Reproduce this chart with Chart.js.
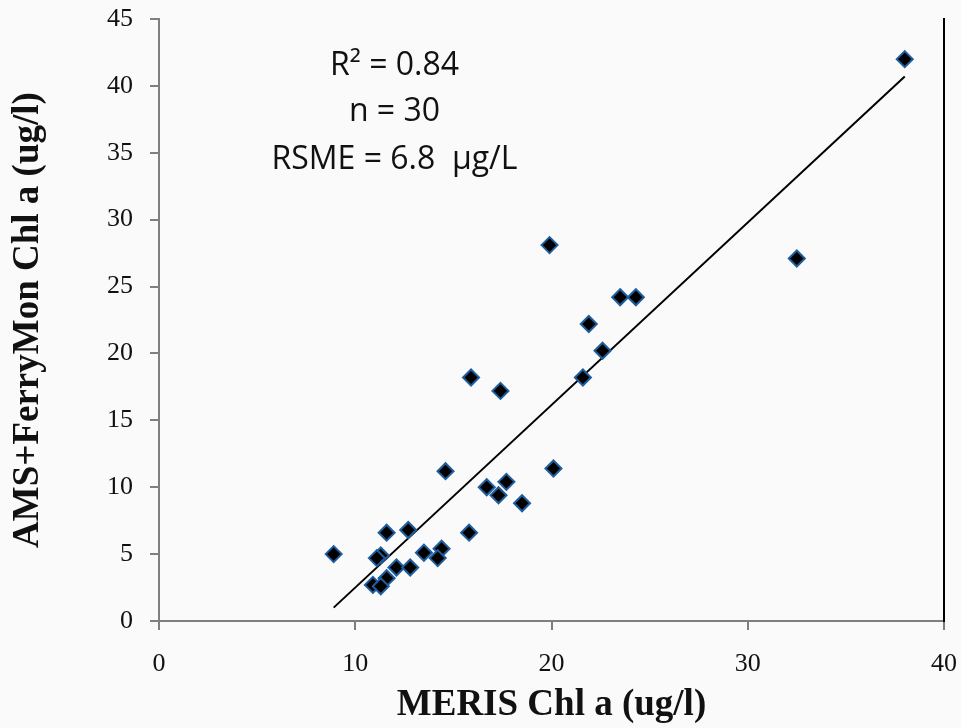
<!DOCTYPE html>
<html>
<head>
<meta charset="utf-8">
<script src="https://cdn.jsdelivr.net/npm/chart.js@4"></script>
<style>
  html, body { margin: 0; padding: 0; background: #fafafa; }
  #wrap { width: 961px; height: 728px; }
</style>
</head>
<body>
<div id="wrap"><canvas id="chart" width="961" height="728"></canvas></div>
<script>
// MERIS vs in situ (AMS + FerryMon) chlorophyll a, ug/l
const meris = [38.0, 32.5, 19.9, 23.5, 24.3, 21.9, 22.6, 21.6, 15.9, 17.4,
               14.6, 20.1, 16.7, 17.7, 17.3, 18.5, 15.8, 11.6, 12.7, 8.9,
               11.3, 11.1, 13.5, 14.4, 14.2, 12.1, 12.8, 11.6, 10.9, 11.3];
const ferryMon = [42.0, 27.1, 28.1, 24.2, 24.2, 22.2, 20.2, 18.2, 18.2, 17.2,
                  11.2, 11.4, 10.0, 10.4, 9.4, 8.8, 6.6, 6.6, 6.8, 5.0,
                  4.9, 4.7, 5.1, 5.4, 4.7, 4.0, 4.0, 3.2, 2.7, 2.6];

// trend line end points
const trendX = [8.9, 38.0];
const trendY = [1.0, 40.7];

const xTicks = [0, 10, 20, 30, 40];
const yTicks = [0, 5, 10, 15, 20, 25, 30, 35, 40, 45];

const statLines = ["R² = 0.84", "n = 30", "RSME = 6.8  µg/L"];

const points = meris.map((x, i) => ({ x: x, y: ferryMon[i] }));
const trend = trendX.map((x, i) => ({ x: x, y: trendY[i] }));

const statsText = {
    id: "statsText",
    afterDraw(chart) {
        const ctx = chart.ctx;
        const xs = chart.scales.x, ys = chart.scales.y;
        const cx = xs.getPixelForValue(12.0);
        const base = [40.8, 37.4, 33.8];
        ctx.save();
        ctx.fillStyle = "#111";
        ctx.font = "32px 'Open Sans'";
        ctx.textAlign = "center";
        ctx.textBaseline = "alphabetic";
        statLines.forEach((t, i) => ctx.fillText(t, cx, ys.getPixelForValue(base[i])));
        ctx.restore();
    }
};

const axisGray = "#7f7f7f";
const tickFont = { family: "'Liberation Serif', serif", size: 26 };
const titleFont = { family: "'Liberation Serif', serif", size: 37, weight: "bold" };

function noPad(s) {
    s.paddingLeft = 0; s.paddingRight = 0;
    s.paddingTop = 0; s.paddingBottom = 0;
}

new Chart(document.getElementById("chart"), {
    type: "scatter",
    data: {
        datasets: [{
            data: points,
            pointStyle: "rectRot",
            pointRadius: 8,
            backgroundColor: "#000",
            borderColor: "#1f5e9e",
            borderWidth: 2
        }, {
            type: "line",
            data: trend,
            borderColor: "#000",
            borderWidth: 2,
            pointRadius: 0,
            fill: false
        }]
    },
    options: {
        responsive: false,
        animation: false,
        layout: { padding: { top: 19, left: 0, right: 0, bottom: 0 } },
        plugins: { legend: { display: false }, tooltip: { enabled: false } },
        scales: {
            x: {
                type: "linear",
                min: 0, max: 40,
                afterBuildTicks: s => { s.ticks = xTicks.map(v => ({ value: v })); },
                afterFit: s => { s.height = 107; noPad(s); },
                grid: { display: true, drawOnChartArea: false, drawTicks: true, tickLength: 9, color: axisGray, lineWidth: 2 },
                border: { display: true, color: axisGray, width: 2 },
                ticks: { color: "#111", font: tickFont, padding: 19, maxRotation: 0 },
                title: { display: true, text: "MERIS Chl a (ug/l)", color: "#111", font: titleFont, padding: { top: 0, bottom: 0 } }
            },
            y: {
                type: "linear",
                min: 0, max: 45,
                afterBuildTicks: s => { s.ticks = yTicks.map(v => ({ value: v })); },
                afterFit: s => { s.width = 159; noPad(s); },
                grid: { display: true, drawOnChartArea: false, drawTicks: true, tickLength: 9, color: axisGray, lineWidth: 2 },
                border: { display: true, color: axisGray, width: 2 },
                ticks: { color: "#111", font: tickFont, padding: 17 },
                title: { display: true, text: "AMS+FerryMon Chl a (ug/l)", color: "#111", font: titleFont, padding: { top: 6, bottom: 0 } }
            },
            y2: {
                type: "linear",
                position: "right",
                min: 0, max: 45,
                afterFit: s => { s.width = 17; noPad(s); },
                grid: { display: false },
                border: { display: true, color: "#000", width: 2 },
                ticks: { display: false }
            }
        }
    },
    plugins: [statsText]
});
</script>
</body>
</html>
